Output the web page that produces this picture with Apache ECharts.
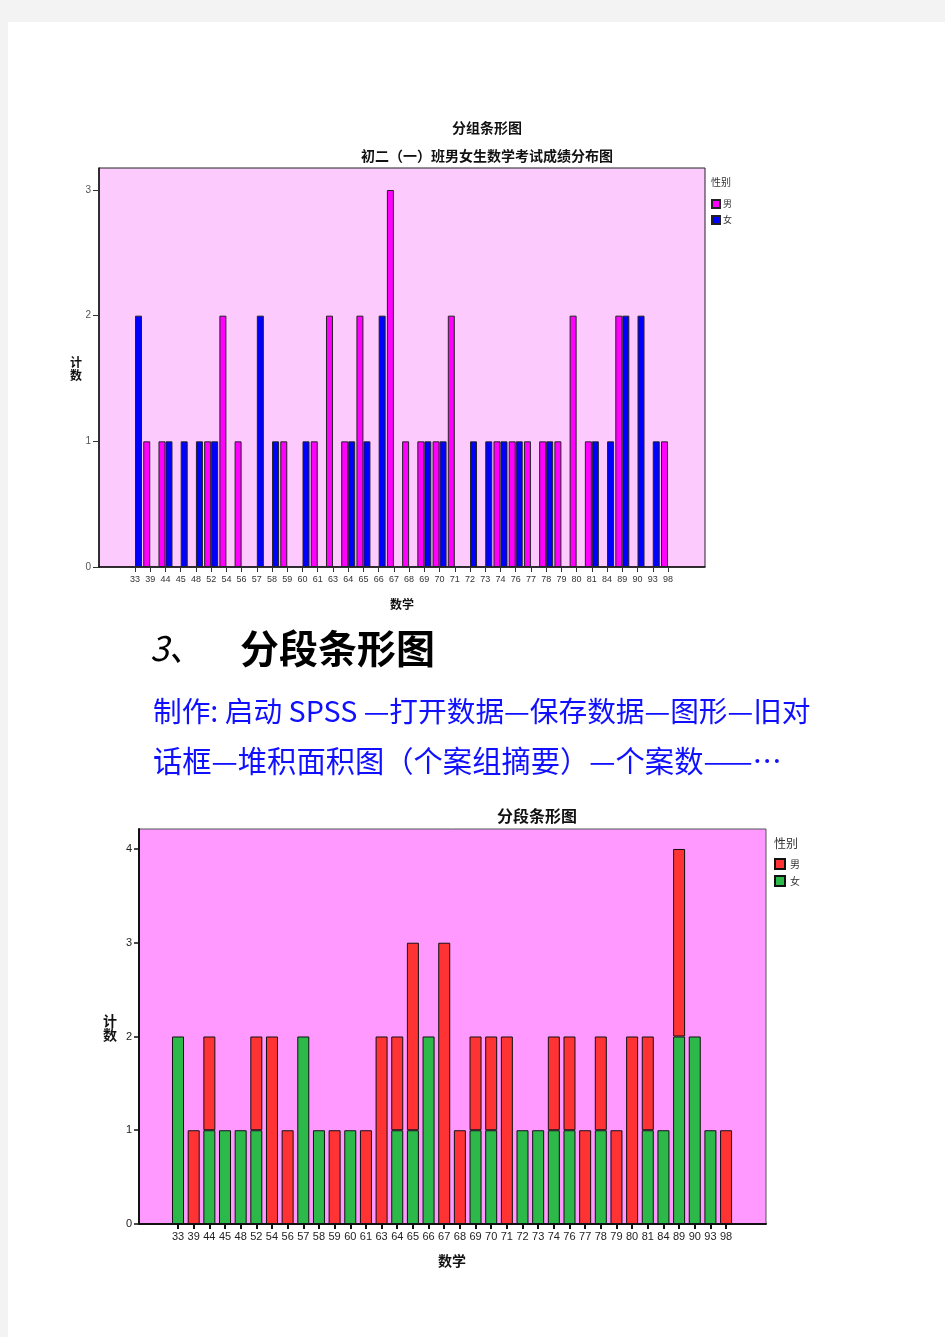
<!DOCTYPE html>
<html>
<head>
<meta charset="utf-8">
<script src="https://cdn.jsdelivr.net/npm/echarts@6/dist/echarts.min.js"></script>
<style>
html,body{margin:0;padding:0;background:#f3f3f3;width:945px;height:1337px;overflow:hidden;}
#c{position:absolute;left:8px;top:22px;width:937px;height:1315px;background:#fff;}
</style>
</head>
<body>
<div id="c"></div>
<script>
// ---- data ----
const categories = ['33','39','44','45','48','52','54','56','57','58','59','60','61','63','64','65','66','67','68','69','70','71','72','73','74','76','77','78','79','80','81','84','89','90','93','98'];
const maleCounts   = [0,1,1,0,0,1,2,1,0,0,1,0,1,2,1,2,0,3,1,1,1,2,0,0,1,1,1,1,1,2,1,0,2,0,0,1];
const femaleCounts = [2,0,1,1,1,1,0,0,2,1,0,1,0,0,1,1,2,0,0,1,1,0,1,1,1,1,0,1,0,0,1,1,2,2,1,0];
const yTicks1 = [0,1,2,3];
const yTicks2 = [0,1,2,3,4];
const seriesNames = ['男','女'];

const F = '"Noto Sans CJK SC", sans-serif';
const nz = a => a.map(v => v === 0 ? '-' : v);

const chart = echarts.init(document.getElementById('c'), null, {renderer:'canvas'});

function txt(x, y, text, font, fill, align, valign, lh){
  return {type:'text', x:x, y:y, style:{text:text, font:font, fill:fill||'#000', align:align||'center', verticalAlign:valign||'middle', lineHeight:lh}};
}

const option = {
  animation:false,
  backgroundColor:'#fff',
  grid:[
    {left:91, top:146, width:606, height:399, show:true, backgroundColor:'#fdcafd', borderColor:'#222', borderWidth:1},
    {left:119.4, top:146, width:548.2, height:399},
    {left:131, top:807, width:627, height:395, show:true, backgroundColor:'#ff99ff', borderColor:'#555', borderWidth:1},
    {left:162.2, top:807, width:563.7, height:395}
  ],
  xAxis:[
    {gridIndex:0, type:'value', min:0, max:1, axisLabel:{show:false}, axisTick:{show:false}, splitLine:{show:false}, axisLine:{show:true, lineStyle:{color:'#111', width:1.5}}},
    {gridIndex:1, type:'category', data:categories, axisLine:{show:false},
      axisTick:{show:true, alignWithLabel:true, length:5, lineStyle:{color:'#333', width:1}},
      axisLabel:{fontSize:9, color:'#333', margin:8, interval:0, fontFamily:'Arial, "Liberation Sans", sans-serif'}},
    {gridIndex:2, type:'value', min:0, max:1, axisLabel:{show:false}, axisTick:{show:false}, splitLine:{show:false}, axisLine:{show:true, lineStyle:{color:'#111', width:2}}},
    {gridIndex:3, type:'category', data:categories, axisLine:{show:false},
      axisTick:{show:true, alignWithLabel:true, length:5, lineStyle:{color:'#111', width:2}},
      axisLabel:{fontSize:11, color:'#222', margin:7, interval:0, fontFamily:'Arial, "Liberation Sans", sans-serif'}}
  ],
  yAxis:[
    {gridIndex:0, type:'value', min:0, max:3.175, interval:1, splitLine:{show:false},
      axisLine:{show:true, lineStyle:{color:'#111', width:1.5}},
      axisTick:{show:true, length:6, customValues:yTicks1, lineStyle:{color:'#333'}},
      axisLabel:{fontSize:10, color:'#555', margin:8, customValues:yTicks1, fontFamily:'Arial, "Liberation Sans", sans-serif'}},
    {gridIndex:1, type:'value', min:0, max:3.175, interval:1, show:false, splitLine:{show:false}},
    {gridIndex:2, type:'value', min:0, max:4.213, interval:1, splitLine:{show:false},
      axisLine:{show:true, lineStyle:{color:'#111', width:2}},
      axisTick:{show:true, length:5, customValues:yTicks2, lineStyle:{color:'#111', width:1.5}},
      axisLabel:{fontSize:11, color:'#222', margin:7, customValues:yTicks2, fontFamily:'Arial, "Liberation Sans", sans-serif'}},
    {gridIndex:3, type:'value', min:0, max:4.213, interval:1, show:false, splitLine:{show:false}}
  ],
  legend:[
    {orient:'vertical', left:703, top:177, padding:0, itemWidth:8, itemHeight:8, itemGap:6, icon:'rect',
      data:['男1','女1'], formatter:n => n.charAt(0), textStyle:{fontSize:9, color:'#333', fontFamily:F, padding:[0,0,0,-2]}},
    {orient:'vertical', left:766, top:836, padding:0, itemWidth:10, itemHeight:10, itemGap:5, icon:'rect',
      data:['男2','女2'], formatter:n => n.charAt(0), textStyle:{fontSize:10, color:'#333', fontFamily:F, padding:[0,0,0,0]}}
  ],
  series:[
    {name:'男1', type:'bar', xAxisIndex:1, yAxisIndex:1, data:nz(maleCounts), barWidth:7, barGap:'0%',
      itemStyle:{color:'#ff00ff', borderColor:'#222', borderWidth:1}},
    {name:'女1', type:'bar', xAxisIndex:1, yAxisIndex:1, data:nz(femaleCounts), barWidth:7, barGap:'0%',
      itemStyle:{color:'#0000ff', borderColor:'#222', borderWidth:1}},
    {name:'女2', type:'bar', stack:'s', xAxisIndex:3, yAxisIndex:3, data:nz(femaleCounts), barWidth:12,
      itemStyle:{color:'#2db84a', borderColor:'#111', borderWidth:1}},
    {name:'男2', type:'bar', stack:'s', xAxisIndex:3, yAxisIndex:3, data:nz(maleCounts), barWidth:12,
      itemStyle:{color:'#ff3333', borderColor:'#111', borderWidth:1}}
  ],
  graphic:[
    txt(479, 106, '分组条形图', 'bold 14px '+F, '#111'),
    txt(479, 134, '初二（一）班男女生数学考试成绩分布图', 'bold 14px '+F, '#111'),
    txt(68, 347, '计\n数', 'bold 12px '+F, '#111', 'center', 'middle', 13),
    txt(394, 582, '数学', 'bold 12px '+F, '#111'),
    txt(703, 160, '性别', '10px '+F, '#333', 'left'),
    txt(142, 626, '3、', 'italic 34px '+F, '#000', 'left'),
    txt(232, 626, '分段条形图', 'bold 39px '+F, '#000', 'left'),
    txt(145, 689, '制作: 启动 SPSS —打开数据—保存数据—图形—旧对', '28.7px '+F, '#1010ff', 'left'),
    txt(145, 739, '话框—堆积面积图（个案组摘要）—个案数——…', '29.3px '+F, '#1010ff', 'left'),
    txt(529, 794, '分段条形图', 'bold 16px '+F, '#111'),
    txt(102, 1006, '计\n数', 'bold 14px '+F, '#111', 'center', 'middle', 14),
    txt(444, 1239, '数学', 'bold 14px '+F, '#111'),
    txt(766, 821, '性别', '12px '+F, '#333', 'left')
  ]
};
chart.setOption(option);
</script>
</body>
</html>
